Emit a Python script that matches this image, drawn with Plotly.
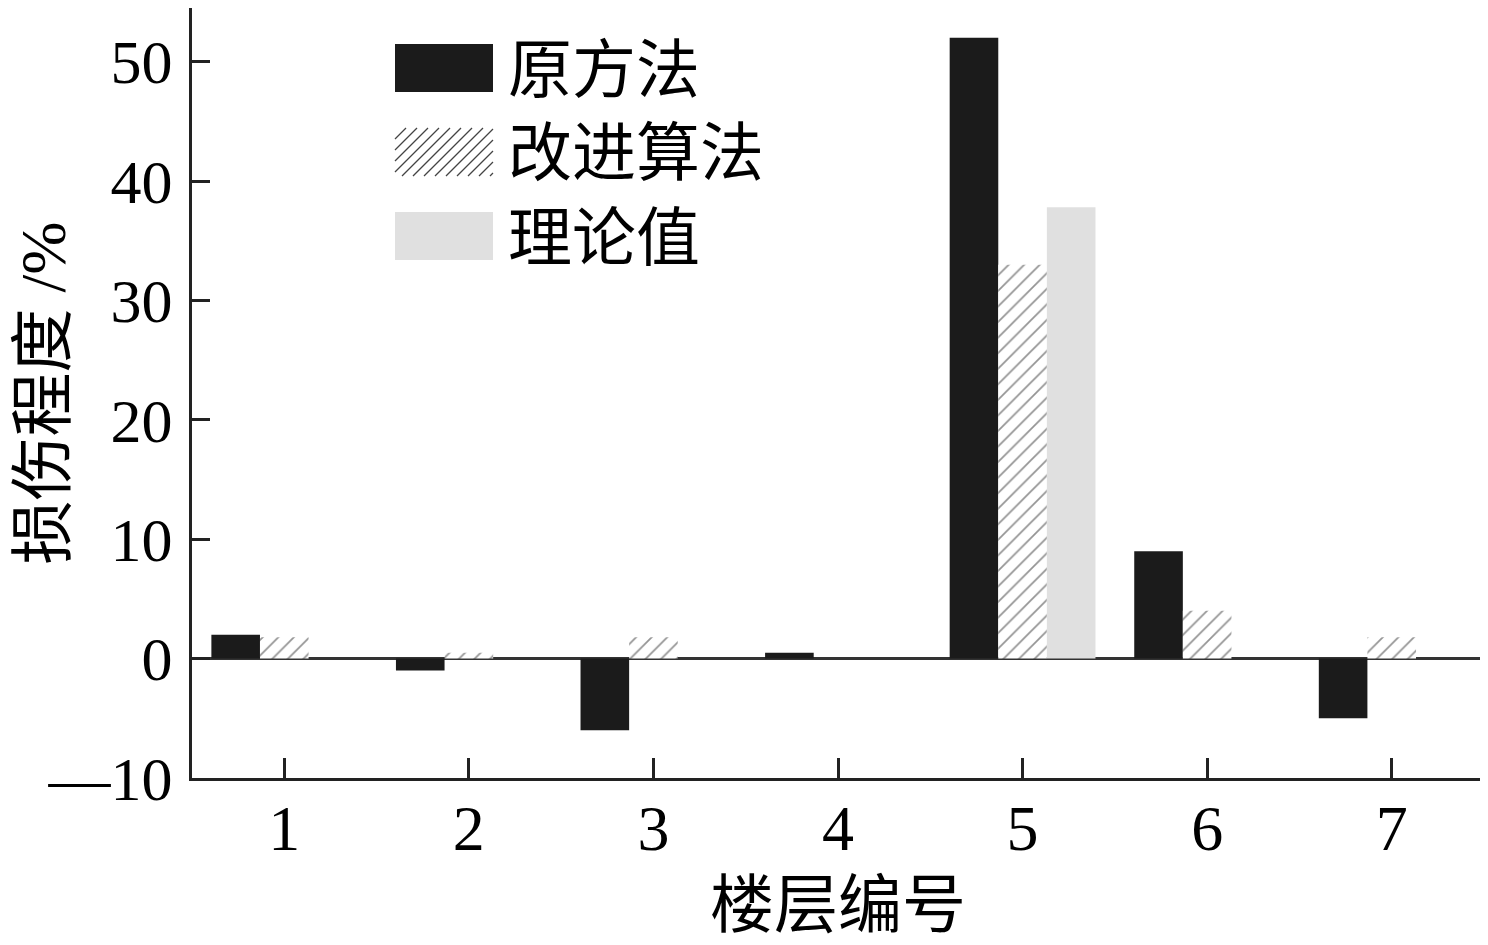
import plotly.graph_objects as go

# ---------------- data ----------------
floors = [1, 2, 3, 4, 5, 6, 7]
original_method = [2.0, -1.0, -6.0, 0.5, 52.0, 9.0, -5.0]
improved_method = [1.8, 0.5, 1.8, 0.0, 33.0, 4.0, 1.8]
theoretical = [0.0, 0.0, 0.0, 0.0, 37.8, 0.0, 0.0]
series_names = ["原方法", "改进算法", "理论值"]
y_tickvals = [-10, 0, 10, 20, 30, 40, 50, 54.5]
y_ticktext = ["—10", "0", "10", "20", "30", "40", "50", ""]
x_tickvals = [1, 2, 3, 4, 5, 6, 7, 7.5]
x_ticktext = ["1", "2", "3", "4", "5", "6", "7", ""]

# ---------------- layout constants (screen pixels) ----------------
OFF = 8                      # page body margin of the browser
W, H = 1488 - OFF, 945 - OFF
L, R, T, B = 192, 1484, 8, 778
FONT = "Liberation Serif, Times New Roman, Noto Sans CJK SC, serif"
BLACK = "#1b1b1b"
GRAY = "#e0e0e0"
HATCH = "#2a2a2a"
AXC = "#222222"


def fx(px):
    return (px - L) / (R - L)


def fy(py):
    return (B - py) / (B - T)


fig = go.Figure()
fig.add_trace(go.Bar(x=floors, y=original_method, name=series_names[0],
                     marker=dict(color=BLACK, line=dict(width=0))))
fig.add_trace(go.Bar(x=floors, y=improved_method, name=series_names[1],
                     marker=dict(color="white", line=dict(width=0),
                                 pattern=dict(shape="/", fgcolor=HATCH, bgcolor="white",
                                              size=11, solidity=0.16))))
fig.add_trace(go.Bar(x=floors, y=theoretical, name=series_names[2],
                     marker=dict(color=GRAY, line=dict(width=0))))

# ---------------- custom legend (large swatches) ----------------
shapes = []
annotations = []
sw_x0, sw_x1 = 395, 493
rows = [(44, 92), (128, 176), (212, 260)]
shapes.append(dict(type="rect", xref="paper", yref="paper",
                   x0=fx(sw_x0), x1=fx(sw_x1), y0=fy(rows[0][1]), y1=fy(rows[0][0]),
                   fillcolor=BLACK, line=dict(width=0)))
y0p, y1p = rows[1]
hgt = y1p - y0p
path = ""
step = 11
start = sw_x0 - hgt
while start < sw_x1:
    ax, ay = start, y1p
    bx, by = start + hgt, y0p
    if ax < sw_x0:
        ay = y1p - (sw_x0 - ax)
        ax = sw_x0
    if bx > sw_x1:
        by = y0p + (bx - sw_x1)
        bx = sw_x1
    if bx > ax:
        path += f"M{fx(ax):.5f},{fy(ay):.5f} L{fx(bx):.5f},{fy(by):.5f} "
    start += step
shapes.append(dict(type="path", xref="paper", yref="paper", path=path,
                   line=dict(color="#444444", width=1.3)))
shapes.append(dict(type="rect", xref="paper", yref="paper",
                   x0=fx(sw_x0), x1=fx(sw_x1), y0=fy(rows[2][1]), y1=fy(rows[2][0]),
                   fillcolor=GRAY, line=dict(width=0)))
for (r0, r1), name in zip(rows, series_names):
    annotations.append(dict(xref="paper", yref="paper", x=fx(506), y=fy((r0 + r1) / 2 + 2),
                            xanchor="left", yanchor="middle", showarrow=False,
                            text=name, font=dict(family=FONT, size=64, color="black")))

fig.update_layout(
    width=W, height=H,
    margin=dict(l=L - OFF, r=W - (R - OFF), t=T - OFF, b=H - (B - OFF), pad=0,
                autoexpand=False),
    paper_bgcolor="white", plot_bgcolor="white",
    barmode="group", bargap=0.21, bargroupgap=0.0,
    showlegend=False,
    font=dict(family=FONT, size=62, color="black"),
    shapes=shapes, annotations=annotations,
)
fig.update_xaxes(
    range=[0.5, 7.5], tickmode="array", tickvals=x_tickvals, ticktext=x_ticktext,
    ticks="inside", ticklen=20, tickwidth=3, tickcolor=AXC,
    showline=True, linecolor=AXC, linewidth=3, showgrid=False, zeroline=False,
    automargin=False,
    ticklabelstandoff=-8, tickfont=dict(family=FONT, size=64),
    title=dict(text="楼层编号", font=dict(family=FONT, size=64), standoff=20),
)
fig.update_yaxes(
    range=[-10, 54.5], tickmode="array", tickvals=y_tickvals, ticktext=y_ticktext,
    ticks="inside", ticklen=18, tickwidth=3, tickcolor=AXC,
    showline=True, linecolor=AXC, linewidth=3, showgrid=False,
    zeroline=True, zerolinecolor="#333333", zerolinewidth=3,
    automargin=False,
    ticklabelstandoff=4, tickfont=dict(family=FONT, size=62),
    title=dict(text="损伤程度 /%", font=dict(family=FONT, size=64), standoff=10),
)

fig.write_html("out.html")
